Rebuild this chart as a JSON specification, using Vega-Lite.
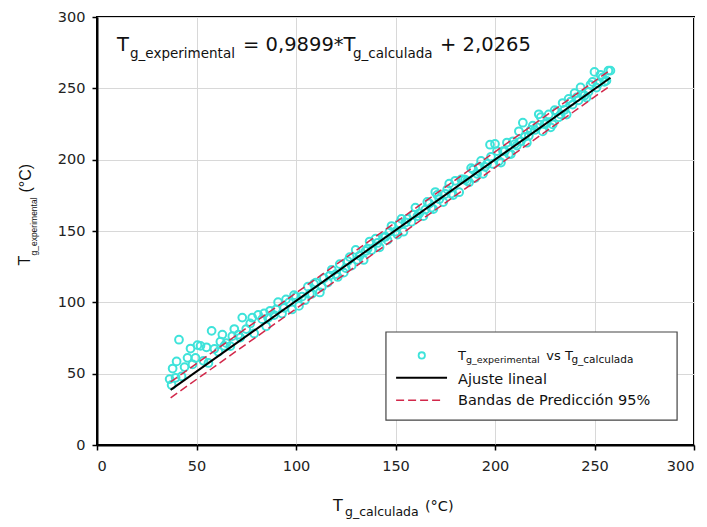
{
  "$schema": "https://vega.github.io/schema/vega-lite/v6.json",
  "width": 597,
  "height": 428,
  "autosize": {"type": "none"},
  "padding": {"left": 97, "top": 17, "right": 13, "bottom": 82},
  "background": "white",
  "config": {
    "view": {"stroke": "#000", "strokeWidth": 2},
    "axis": {
      "domainColor": "#000", "domainWidth": 2,
      "tickColor": "#000", "tickWidth": 1.5, "tickSize": 5,
      "gridColor": "#d8d8d8", "gridWidth": 1,
      "labelFont": "DejaVu Sans", "labelFontSize": 14.5, "labelColor": "#222"
    }
  },
  "datasets": {
    "pts": [
      {"x": 36.5, "y": 46.2}, {"x": 37.5, "y": 42.1}, {"x": 38, "y": 53.6}, {"x": 39.5, "y": 47.1},
      {"x": 40, "y": 58.6}, {"x": 41.2, "y": 73.8}, {"x": 42.5, "y": 48.1}, {"x": 44, "y": 54.6},
      {"x": 45.5, "y": 61.1}, {"x": 47, "y": 67.6}, {"x": 48, "y": 56.5}, {"x": 49.5, "y": 61.0},
      {"x": 50.5, "y": 70.0}, {"x": 52, "y": 69.5}, {"x": 53.5, "y": 59.0}, {"x": 55, "y": 68.5},
      {"x": 56, "y": 57.5}, {"x": 57.6, "y": 80.0}, {"x": 59, "y": 67.4}, {"x": 61, "y": 65.4},
      {"x": 62, "y": 72.4}, {"x": 63, "y": 77.4}, {"x": 64, "y": 69.4}, {"x": 65, "y": 71.4},
      {"x": 67, "y": 69.3}, {"x": 68, "y": 76.3}, {"x": 69, "y": 81.3}, {"x": 71, "y": 77.3},
      {"x": 72, "y": 75.3}, {"x": 73, "y": 89.3}, {"x": 75, "y": 81.3}, {"x": 77, "y": 85.2},
      {"x": 78, "y": 89.2}, {"x": 79, "y": 78.2}, {"x": 81, "y": 91.2}, {"x": 83, "y": 88.2},
      {"x": 84, "y": 92.2}, {"x": 85, "y": 83.2}, {"x": 86, "y": 89.1}, {"x": 87, "y": 94.1},
      {"x": 89, "y": 91.1}, {"x": 90, "y": 95.1}, {"x": 91, "y": 100.1}, {"x": 93, "y": 92.1},
      {"x": 94, "y": 96.1}, {"x": 95, "y": 102.1}, {"x": 96.5, "y": 100.0}, {"x": 98, "y": 95.0},
      {"x": 99, "y": 105.0}, {"x": 100, "y": 104.0}, {"x": 101.5, "y": 97.5}, {"x": 103, "y": 104.0},
      {"x": 104.5, "y": 101.5}, {"x": 106, "y": 111.0}, {"x": 107, "y": 106.0}, {"x": 108, "y": 105.9},
      {"x": 109, "y": 112.9}, {"x": 110, "y": 113.9}, {"x": 112, "y": 106.9}, {"x": 113, "y": 110.9},
      {"x": 114, "y": 116.9}, {"x": 116, "y": 113.9}, {"x": 117, "y": 118.8}, {"x": 118, "y": 122.8},
      {"x": 120, "y": 119.8}, {"x": 121, "y": 117.8}, {"x": 122, "y": 126.8}, {"x": 124, "y": 120.8},
      {"x": 125, "y": 124.0}, {"x": 126, "y": 128.8}, {"x": 127, "y": 131.7}, {"x": 128, "y": 125.7},
      {"x": 130, "y": 136.7}, {"x": 131, "y": 129.7}, {"x": 132, "y": 132.7}, {"x": 134, "y": 129.7},
      {"x": 135, "y": 136.0}, {"x": 136, "y": 137.6}, {"x": 137, "y": 142.6}, {"x": 138, "y": 136.6},
      {"x": 140, "y": 144.6}, {"x": 141, "y": 141.6}, {"x": 142, "y": 138.6}, {"x": 144, "y": 145.6},
      {"x": 145, "y": 146.0}, {"x": 146, "y": 143.6}, {"x": 147, "y": 149.5}, {"x": 148, "y": 153.5},
      {"x": 150, "y": 149.5}, {"x": 151, "y": 147.5}, {"x": 152, "y": 155.5}, {"x": 153, "y": 158.5},
      {"x": 154, "y": 149.5}, {"x": 155, "y": 156.0}, {"x": 156, "y": 158.5}, {"x": 158, "y": 156.4},
      {"x": 159, "y": 161.4}, {"x": 160, "y": 166.4}, {"x": 161, "y": 160.4}, {"x": 162, "y": 162.4},
      {"x": 164, "y": 160.4}, {"x": 165, "y": 165.0}, {"x": 166, "y": 170.4}, {"x": 167, "y": 169.3},
      {"x": 168, "y": 166.3}, {"x": 169, "y": 165.3}, {"x": 170, "y": 177.3}, {"x": 171, "y": 175.3},
      {"x": 172, "y": 172.3}, {"x": 174, "y": 170.3}, {"x": 175, "y": 176.0}, {"x": 176, "y": 179.2},
      {"x": 177, "y": 183.2}, {"x": 178, "y": 176.2}, {"x": 179, "y": 175.2}, {"x": 180, "y": 185.2},
      {"x": 182, "y": 177.2}, {"x": 183, "y": 186.2}, {"x": 184, "y": 186.2}, {"x": 185, "y": 186.0},
      {"x": 186, "y": 185.1}, {"x": 187, "y": 184.1}, {"x": 188, "y": 194.1}, {"x": 189, "y": 193.1},
      {"x": 190, "y": 187.1}, {"x": 191, "y": 190.1}, {"x": 192, "y": 195.1}, {"x": 193, "y": 199.1},
      {"x": 194, "y": 190.1}, {"x": 195, "y": 195.0}, {"x": 196, "y": 197.0}, {"x": 197.5, "y": 210.5},
      {"x": 198, "y": 202.0}, {"x": 199, "y": 197.0}, {"x": 200, "y": 211.0}, {"x": 201, "y": 206.0},
      {"x": 202, "y": 199.0}, {"x": 203, "y": 198.0}, {"x": 204, "y": 206.0}, {"x": 205, "y": 206.0},
      {"x": 206, "y": 212.0}, {"x": 207, "y": 203.9}, {"x": 208, "y": 203.9}, {"x": 209, "y": 212.9},
      {"x": 210, "y": 210.9}, {"x": 211, "y": 209.9}, {"x": 212, "y": 219.9}, {"x": 213, "y": 212.9},
      {"x": 214, "y": 225.9}, {"x": 215, "y": 216.0}, {"x": 216, "y": 211.9}, {"x": 217, "y": 216.8},
      {"x": 218, "y": 220.8}, {"x": 219, "y": 223.8}, {"x": 220, "y": 220.8}, {"x": 221, "y": 222.8},
      {"x": 222, "y": 231.8}, {"x": 223, "y": 229.8}, {"x": 224, "y": 219.8}, {"x": 225, "y": 225.0},
      {"x": 226, "y": 225.7}, {"x": 227, "y": 231.7}, {"x": 228, "y": 222.7}, {"x": 229, "y": 224.7},
      {"x": 230, "y": 234.7}, {"x": 231, "y": 233.7}, {"x": 232, "y": 229.7}, {"x": 233, "y": 231.7},
      {"x": 234, "y": 239.7}, {"x": 235, "y": 235.0}, {"x": 236, "y": 231.6}, {"x": 237, "y": 242.6},
      {"x": 238, "y": 240.6}, {"x": 239, "y": 238.6}, {"x": 240, "y": 246.6}, {"x": 241, "y": 243.6},
      {"x": 242, "y": 241.6}, {"x": 243, "y": 250.6}, {"x": 244, "y": 245.6}, {"x": 245, "y": 245.0},
      {"x": 246, "y": 243.5}, {"x": 247, "y": 247.5}, {"x": 248, "y": 252.5}, {"x": 249, "y": 254.5},
      {"x": 250, "y": 261.5}, {"x": 251, "y": 250.5}, {"x": 252, "y": 253.5}, {"x": 253, "y": 259.5},
      {"x": 254, "y": 257.5}, {"x": 255, "y": 254.5}, {"x": 256, "y": 255.4}, {"x": 257, "y": 262.4},
      {"x": 258, "y": 262.4}
    ],
    "fit": [
      {"x": 37, "y": 38.65}, {"x": 258, "y": 257.42}
    ],
    "bands": [
      {"x": 37, "y": 44.2, "band": "upper"}, {"x": 258, "y": 262.9, "band": "upper"},
      {"x": 37, "y": 33.1, "band": "lower"}, {"x": 258, "y": 251.9, "band": "lower"}
    ]
  },
  "layer": [
    {
      "data": {"name": "pts"},
      "mark": {"type": "point", "shape": "circle", "filled": false, "size": 60, "strokeWidth": 2, "color": "#3ee3da", "opacity": 1},
      "encoding": {
        "x": {"field": "x", "type": "quantitative", "scale": {"domain": [0, 300], "nice": false},
              "axis": {"title": null, "values": [0, 50, 100, 150, 200, 250, 300], "labelPadding": 9, "grid": true}},
        "y": {"field": "y", "type": "quantitative", "scale": {"domain": [0, 300], "nice": false},
              "axis": {"title": null, "values": [0, 50, 100, 150, 200, 250, 300], "labelPadding": 7, "grid": true}}
      }
    },
    {
      "data": {"name": "bands"},
      "mark": {"type": "line", "color": "#d2284a", "strokeWidth": 1.5, "strokeDash": [8, 4]},
      "encoding": {
        "x": {"field": "x", "type": "quantitative"},
        "y": {"field": "y", "type": "quantitative"},
        "detail": {"field": "band"}
      }
    },
    {
      "data": {"name": "fit"},
      "mark": {"type": "line", "color": "#000", "strokeWidth": 2},
      "encoding": {
        "x": {"field": "x", "type": "quantitative"},
        "y": {"field": "y", "type": "quantitative"}
      }
    },
    {
      "data": {"values": [{}]},
      "mark": {"type": "text", "text": "T", "font": "DejaVu Sans", "fontSize": 19.5, "align": "left", "baseline": "alphabetic", "color": "#111"},
      "encoding": {"x": {"datum": 10.05, "type": "quantitative"}, "y": {"datum": 276.3, "type": "quantitative"}}
    },
    {
      "data": {"values": [{}]},
      "mark": {"type": "text", "text": "g_experimental", "font": "DejaVu Sans", "fontSize": 13.5, "align": "left", "baseline": "alphabetic", "color": "#111"},
      "encoding": {"x": {"datum": 16.6, "type": "quantitative"}, "y": {"datum": 271.4, "type": "quantitative"}}
    },
    {
      "data": {"values": [{}]},
      "mark": {"type": "text", "text": "= 0,9899*T", "font": "DejaVu Sans", "fontSize": 19.5, "align": "left", "baseline": "alphabetic", "color": "#111"},
      "encoding": {"x": {"datum": 73.4, "type": "quantitative"}, "y": {"datum": 276.3, "type": "quantitative"}}
    },
    {
      "data": {"values": [{}]},
      "mark": {"type": "text", "text": "g_calculada", "font": "DejaVu Sans", "fontSize": 13.5, "align": "left", "baseline": "alphabetic", "color": "#111"},
      "encoding": {"x": {"datum": 128.6, "type": "quantitative"}, "y": {"datum": 271.4, "type": "quantitative"}}
    },
    {
      "data": {"values": [{}]},
      "mark": {"type": "text", "text": "+ 2,0265", "font": "DejaVu Sans", "fontSize": 19.5, "align": "left", "baseline": "alphabetic", "color": "#111"},
      "encoding": {"x": {"datum": 172.4, "type": "quantitative"}, "y": {"datum": 276.3, "type": "quantitative"}}
    },
    {
      "data": {"values": [{}]},
      "mark": {"type": "text", "text": "T", "font": "DejaVu Sans", "fontSize": 16, "align": "left", "baseline": "alphabetic", "color": "#111"},
      "encoding": {"x": {"datum": 118.6, "type": "quantitative"}, "y": {"datum": -46.4, "type": "quantitative"}}
    },
    {
      "data": {"values": [{}]},
      "mark": {"type": "text", "text": "g_calculada", "font": "DejaVu Sans", "fontSize": 12.5, "align": "left", "baseline": "alphabetic", "color": "#111"},
      "encoding": {"x": {"datum": 124.6, "type": "quantitative"}, "y": {"datum": -49.9, "type": "quantitative"}}
    },
    {
      "data": {"values": [{}]},
      "mark": {"type": "text", "text": "(°C)", "font": "DejaVu Sans", "fontSize": 14.5, "align": "left", "baseline": "alphabetic", "color": "#111"},
      "encoding": {"x": {"datum": 164.8, "type": "quantitative"}, "y": {"datum": -46.4, "type": "quantitative"}}
    },
    {
      "data": {"values": [{}]},
      "mark": {"type": "text", "text": "T", "font": "Liberation Sans", "fontSize": 16, "angle": 270, "align": "left", "baseline": "alphabetic", "color": "#111"},
      "encoding": {"x": {"datum": -33.7, "type": "quantitative"}, "y": {"datum": 125.8, "type": "quantitative"}}
    },
    {
      "data": {"values": [{}]},
      "mark": {"type": "text", "text": "g_experimental", "font": "Liberation Sans", "fontSize": 8.5, "angle": 270, "align": "left", "baseline": "alphabetic", "color": "#111"},
      "encoding": {"x": {"datum": -30.2, "type": "quantitative"}, "y": {"datum": 132.8, "type": "quantitative"}}
    },
    {
      "data": {"values": [{}]},
      "mark": {"type": "text", "text": "(°C)", "font": "Liberation Sans", "fontSize": 16, "angle": 270, "align": "left", "baseline": "alphabetic", "color": "#111"},
      "encoding": {"x": {"datum": -33.2, "type": "quantitative"}, "y": {"datum": 177, "type": "quantitative"}}
    },
    {
      "data": {"values": [{}]},
      "mark": {"type": "rect", "fill": "white", "stroke": "#444", "strokeWidth": 1.2},
      "encoding": {
        "x": {"datum": 145.2, "type": "quantitative"}, "x2": {"datum": 291.5},
        "y": {"datum": 79.2, "type": "quantitative"}, "y2": {"datum": 17.5}
      }
    },
    {
      "data": {"values": [{}]},
      "mark": {"type": "point", "shape": "circle", "filled": false, "size": 40, "strokeWidth": 1.8, "color": "#3ee3da", "opacity": 1},
      "encoding": {"x": {"datum": 163.2, "type": "quantitative"}, "y": {"datum": 62.8, "type": "quantitative"}}
    },
    {
      "data": {"values": [{}]},
      "mark": {"type": "rule", "color": "#000", "strokeWidth": 2},
      "encoding": {"x": {"datum": 150.3, "type": "quantitative"}, "x2": {"datum": 175.9}, "y": {"datum": 47.2, "type": "quantitative"}}
    },
    {
      "data": {"values": [{}]},
      "mark": {"type": "rule", "color": "#d2284a", "strokeWidth": 1.5, "strokeDash": [8, 4]},
      "encoding": {"x": {"datum": 150.3, "type": "quantitative"}, "x2": {"datum": 173.4}, "y": {"datum": 31.3, "type": "quantitative"}}
    },
    {
      "data": {"values": [{}]},
      "mark": {"type": "text", "text": "T", "font": "DejaVu Sans", "fontSize": 13, "align": "left", "baseline": "alphabetic", "color": "#111"},
      "encoding": {"x": {"datum": 181.4, "type": "quantitative"}, "y": {"datum": 59.3, "type": "quantitative"}}
    },
    {
      "data": {"values": [{}]},
      "mark": {"type": "text", "text": "g_experimental", "font": "DejaVu Sans", "fontSize": 9.5, "align": "left", "baseline": "alphabetic", "color": "#111"},
      "encoding": {"x": {"datum": 185.4, "type": "quantitative"}, "y": {"datum": 57.2, "type": "quantitative"}}
    },
    {
      "data": {"values": [{}]},
      "mark": {"type": "text", "text": "vs T", "font": "DejaVu Sans", "fontSize": 13, "align": "left", "baseline": "alphabetic", "color": "#111"},
      "encoding": {"x": {"datum": 225.8, "type": "quantitative"}, "y": {"datum": 59.3, "type": "quantitative"}}
    },
    {
      "data": {"values": [{}]},
      "mark": {"type": "text", "text": "g_calculada", "font": "DejaVu Sans", "fontSize": 10.5, "align": "left", "baseline": "alphabetic", "color": "#111"},
      "encoding": {"x": {"datum": 238.4, "type": "quantitative"}, "y": {"datum": 57.2, "type": "quantitative"}}
    },
    {
      "data": {"values": [{}]},
      "mark": {"type": "text", "text": "Ajuste lineal", "font": "DejaVu Sans", "fontSize": 14.5, "align": "left", "baseline": "alphabetic", "color": "#111"},
      "encoding": {"x": {"datum": 181.4, "type": "quantitative"}, "y": {"datum": 43.0, "type": "quantitative"}}
    },
    {
      "data": {"values": [{}]},
      "mark": {"type": "text", "text": "Bandas de Predicción 95%", "font": "DejaVu Sans", "fontSize": 14.5, "align": "left", "baseline": "alphabetic", "color": "#111"},
      "encoding": {"x": {"datum": 181.4, "type": "quantitative"}, "y": {"datum": 27.8, "type": "quantitative"}}
    }
  ]
}
